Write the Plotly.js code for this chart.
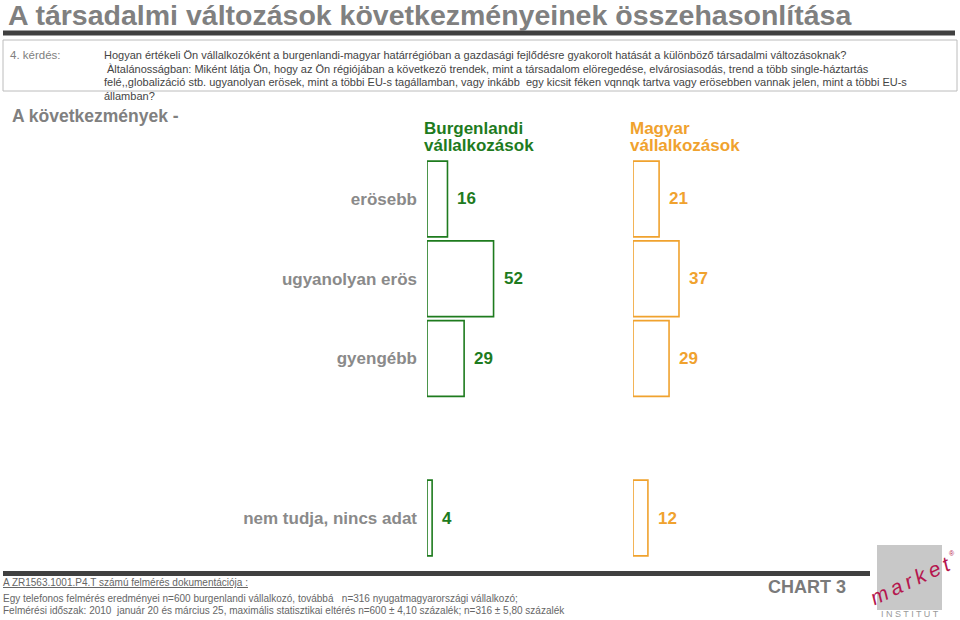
<!DOCTYPE html>
<html>
<head>
<meta charset="utf-8">
<script src="https://cdn.plot.ly/plotly-3.0.1.min.js"></script>
<style>html,body{margin:0;padding:0;background:#fff;}#chart{width:960px;height:620px;}</style>
</head>
<body>
<div id="chart"></div>
<script>
// ---- data ----
var categories = ['erösebb', 'ugyanolyan erös', 'gyengébb', ' ', 'nem tudja, nincs adat'];
var barCategories = ['erösebb', 'ugyanolyan erös', 'gyengébb', 'nem tudja, nincs adat'];
var burgenlandValues = [16, 52, 29, 4];
var magyarValues = [21, 37, 29, 12];
var seriesNames = ['Burgenlandi<br>vállalkozások', 'Magyar<br>vállalkozások'];
var headerLines1 = ['Burgenlandi', 'vállalkozások'];
var headerLines2 = ['Magyar', 'vállalkozások'];

var GREEN = '#1e7b1e', ORANGE = '#f0a22e', GRAY = '#8a8a8a';
var FONT = 'Arial, "Liberation Sans", sans-serif';
var W = 960, H = 620;
function px(x) { return x / W; }
function py(y) { return 1 - y / H; }

var traces = [
  { type: 'bar', orientation: 'h', name: seriesNames[0], y: barCategories, x: burgenlandValues,
    xaxis: 'x', yaxis: 'y', width: 0.95, marker: { color: '#ffffff', line: { color: GREEN, width: 1.6 } },
    hoverinfo: 'skip' },
  { type: 'bar', orientation: 'h', name: seriesNames[1], y: barCategories, x: magyarValues,
    xaxis: 'x2', yaxis: 'y', width: 0.95, marker: { color: '#ffffff', line: { color: ORANGE, width: 1.6 } },
    hoverinfo: 'skip' }
];

var ann = [];
function txt(x, y, text, size, color, bold, opts) {
  var a = { xref: 'paper', yref: 'paper', x: px(x), y: py(y), text: bold ? '<b>' + text + '</b>' : text,
    showarrow: false, xanchor: 'left', yanchor: 'middle', font: { family: FONT, size: size, color: color } };
  if (opts) for (var k in opts) a[k] = opts[k];
  ann.push(a);
}
// title
txt(6, 15, 'A társadalmi változások következményeinek összehasonlítása', 28.5, '#808080', true);
// question
txt(8, 55, '4. kérdés:', 11.5, '#808080', false);
txt(102, 55, 'Hogyan értékeli Ön vállalkozóként a burgenlandi-magyar határrégióban a gazdasági fejlődésre gyakorolt hatását a különböző társadalmi változásoknak?', 11, '#444444', false);
txt(105, 68.5, 'Àltalánosságban: Miként látja Ön, hogy az Ön régiójában a következö trendek, mint a társadalom elöregedése, elvárosiasodás, trend a több single-háztartás', 11, '#444444', false);
txt(102, 82, 'felé,,globalizáció stb. ugyanolyan erösek, mint a többi EU-s tagállamban, vagy inkább  egy kicsit féken vqnnqk tartva vagy erösebben vannak jelen, mint a többi EU-s', 11, '#444444', false);
txt(102, 95.5, 'államban?', 11, '#444444', false);
// section label
txt(10, 116, 'A következmények -', 17.5, '#808080', true);
// headers
txt(422, 129, headerLines1[0], 17, GREEN, true);
txt(422, 145, headerLines1[1], 17, GREEN, true);
txt(628, 129, headerLines2[0], 17, ORANGE, true);
txt(628, 145, headerLines2[1], 17, ORANGE, true);
// value labels
for (var i = 0; i < barCategories.length; i++) {
  ann.push({ xref: 'x', yref: 'y', x: burgenlandValues[i], y: barCategories[i], text: '<b>' + burgenlandValues[i] + '</b>',
    showarrow: false, xanchor: 'left', yanchor: 'middle', xshift: 8, font: { family: FONT, size: 17, color: GREEN } });
  ann.push({ xref: 'x2', yref: 'y', x: magyarValues[i], y: barCategories[i], text: '<b>' + magyarValues[i] + '</b>',
    showarrow: false, xanchor: 'left', yanchor: 'middle', xshift: 8, font: { family: FONT, size: 17, color: ORANGE } });
}
// footer
txt(1, 582, '<u>A ZR1563.1001.P4.T számú felmérés dokumentációja :</u>', 10, '#666666', false);
txt(1, 598, 'Egy telefonos felmérés eredményei n=600 burgenlandi vállalkozó, továbbá   n=316 nyugatmagyarországi vállalkozó;', 10, '#666666', false);
txt(1, 610, 'Felmérési időszak: 2010  január 20 és március 25, maximális statisztikai eltérés n=600 ± 4,10 százalék; n=316 ± 5,80 százalék', 10, '#666666', false);
txt(766, 587, 'CHART 3', 18, '#7a7a7a', true);
// logo
ann.push({ xref: 'paper', yref: 'paper', x: px(910), y: py(580), text: '<i>m\u2009a\u2009r\u2009k\u2009e\u2009t</i>', showarrow: false,
  xanchor: 'center', yanchor: 'middle', textangle: -25, font: { family: FONT, size: 21, color: '#b5164e' } });
ann.push({ xref: 'paper', yref: 'paper', x: px(952), y: py(553), text: '®', showarrow: false,
  xanchor: 'center', yanchor: 'middle', font: { family: FONT, size: 7, color: '#b5164e' } });
ann.push({ xref: 'paper', yref: 'paper', x: px(910), y: py(614), text: 'I N S T I T U T', showarrow: false,
  xanchor: 'center', yanchor: 'middle', font: { family: FONT, size: 9, color: '#9a9a9a' } });

var shapes = [
  { type: 'rect', xref: 'paper', yref: 'paper', x0: px(3), x1: px(955), y0: py(35.5), y1: py(30.5), fillcolor: '#404040', line: { width: 0 } },
  { type: 'rect', xref: 'paper', yref: 'paper', x0: px(3), x1: px(957), y0: py(91), y1: py(40), fillcolor: 'rgba(0,0,0,0)', line: { color: '#bcbcbc', width: 1 } },
  { type: 'rect', xref: 'paper', yref: 'paper', x0: px(3), x1: px(870), y0: py(576), y1: py(571), fillcolor: '#404040', line: { width: 0 } },
  { type: 'rect', xref: 'paper', yref: 'paper', x0: px(877), x1: px(942), y0: py(610), y1: py(545), fillcolor: '#c8c8c8', line: { width: 0 }, layer: 'below' }
];

var layout = {
  width: W, height: H,
  margin: { l: 0, r: 0, t: 0, b: 0 },
  paper_bgcolor: '#ffffff', plot_bgcolor: 'rgba(0,0,0,0)',
  showlegend: false,
  font: { family: FONT },
  xaxis: { domain: [px(427), px(620)], range: [0, 193 / 1.28], visible: false, anchor: 'y', fixedrange: true },
  xaxis2: { domain: [px(633), px(940)], range: [0, 307 / 1.243], visible: false, anchor: 'y', fixedrange: true },
  yaxis: { domain: [py(557.9), py(159.1)], type: 'category', categoryorder: 'array', categoryarray: categories,
    range: [categories.length - 0.5, -0.5], anchor: 'x', showgrid: false, zeroline: false, showline: false,
    ticks: '', ticklabelstandoff: 9, tickfont: { family: FONT, size: 17, color: GRAY, weight: 'bold' }, fixedrange: true },
  annotations: ann,
  shapes: shapes
};

Plotly.newPlot('chart', traces, layout, { displayModeBar: false, staticPlot: true });
</script>
</body>
</html>
